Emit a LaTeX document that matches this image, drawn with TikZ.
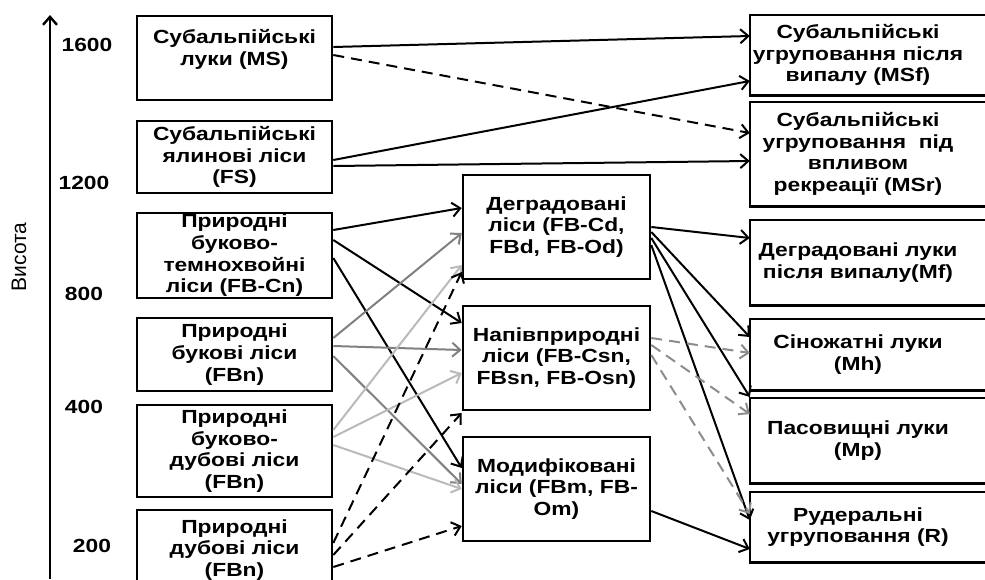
\documentclass[tikz,border=0pt]{standalone}
\usepackage{fontspec}
\setmainfont{Liberation Sans}[FakeStretch=1.2]
\newfontfamily\axisfont{Liberation Sans}
\usepackage{tikz}
\usetikzlibrary{arrows.meta}
\newcommand{\boxfont}{\fontsize{19}{21.7}\selectfont\bfseries}

\begin{document}
\begin{tikzpicture}[x=1pt, y=-1pt,
    box/.style={draw, line width=2.6pt, inner sep=0pt, align=center, font=\boxfont},
    lbox/.style={box, minimum width=195pt},
    mbox/.style={box, minimum width=187pt},
    rbox/.style={inner sep=0pt, align=center, font=\boxfont, minimum width=216pt},
    tick/.style={font=\boxfont},
    link/.style={line width=2pt, -{Straight Barb[length=8pt,width=14pt]}},
    dlink/.style={link, dash pattern=on 11pt off 7pt},
    glink/.style={link, color=black!50},
    llink/.style={link, color=black!27},
    gdlink/.style={dlink, color=black!45}]
          \useasboundingbox (0,0) rectangle (985,579);
          \clip (0,0) rectangle (985,579);

          \draw[line width=2.4pt, -{Straight Barb[length=8pt,width=14pt]}] (50,579) -- (50,15);
          \node[font=\axisfont\fontsize{21}{24}\selectfont, rotate=90] (vys) at (19,257) {Висота};
          \node[tick] (h1600) at (87,45) {1600};
          \node[tick] (h1200) at (84,183) {1200};
          \node[tick] (h800) at (84,294) {800};
          \node[tick] (h400) at (84,407) {400};
          \node[tick] (h200) at (92,546) {200};

          \node[lbox, minimum height=84pt] (ms) at (234.5,58) {Субальпійські\\луки (MS)\\~};
          \node[lbox, minimum height=72pt] (fs) at (234.5,157) {Субальпійські\\ялинові ліси\\(FS)};
          \node[lbox, minimum height=85pt] (fbcn) at (234.5,255.5) {Природні\\буково-\\темнохвойні\\ліси (FB-Cn)};
          \node[lbox, minimum height=73pt] (fbn) at (234.5,354.5) {Природні\\букові ліси\\(FBn)};
          \node[lbox, minimum height=92pt] (fbqn) at (234.5,451) {Природні\\буково-\\дубові ліси\\(FBn)};
          \node[lbox, minimum height=80pt] (fqn) at (234.5,550) {Природні\\дубові ліси\\(FBn)};

          \node[mbox, minimum height=104pt] (deg) at (556.5,227) {Деградовані\\ліси (FB-Cd,\\FBd, FB-Od)};
          \node[mbox, minimum height=104pt] (semi) at (556.5,358) {Напівприродні\\ліси (FB-Csn,\\FBsn, FB-Osn)};
          \node[mbox, minimum height=104pt] (mod) at (556.5,489) {Модифіковані\\ліси (FBm, FB-\\Om)};

          \node[rbox, minimum height=80pt] (msf) at (858,55) {Субальпійські\\угруповання після\\випалу (MSf)};
          \node[rbox, minimum height=104pt] (msr) at (858,154) {Субальпійські\\угруповання~~під\\впливом\\рекреації (MSr)};
          \node[rbox, minimum height=85pt] (mf) at (858,262.5) {Деградовані луки\\після випалу(Mf)};
          \node[rbox, minimum height=71pt] (mh) at (858,354.5) {Сіножатні луки\\(Mh)};
          \node[rbox, minimum height=85pt] (mp) at (858,440.5) {Пасовищні луки\\(Mp)};
          \node[rbox, minimum height=70pt] (rud) at (858,527) {Рудеральні\\угруповання (R)};
          \foreach \b in {msf,msr,mf,mh,mp,rud}
            \draw[line width=2.6pt] (\b.north west -| 1000,0) -- (\b.north west) -- (\b.south west) -- (\b.south west -| 1000,0);

          \draw[link] (ms.east |- 0,47) -- (msf.west |- 0,36);
          \draw[dlink] (ms.east |- 0,55) -- (msr.west |- 0,133);
          \draw[link] (fs.east |- 0,160) -- (msf.west |- 0,81);
          \draw[link] (fs.east |- 0,166) -- (msr.west |- 0,161);

          \draw[link] (fbcn.east |- 0,230) -- (deg.west |- 0,208);
          \draw[link] (fbcn.east |- 0,240) -- (semi.west |- 0,323);
          \draw[link] (fbcn.east |- 0,258) -- (mod.west |- 0,468);

          \draw[glink] (fbn.east |- 0,338) -- (deg.west |- 0,233);
          \draw[glink] (fbn.east |- 0,346) -- (semi.west |- 0,350);
          \draw[glink] (fbn.east |- 0,356) -- (mod.west |- 0,484);

          \draw[llink] (fbqn.east |- 0,430) -- (deg.west |- 0,265);
          \draw[llink] (fbqn.east |- 0,437) -- (semi.west |- 0,373);
          \draw[llink] (fbqn.east |- 0,445) -- (mod.west |- 0,489);

          \draw[dlink] (fqn.east |- 0,543) -- (deg.west |- 0,272);
          \draw[dlink] (fqn.east |- 0,555) -- (semi.west |- 0,413);
          \draw[dlink] (fqn.east |- 0,567) -- (mod.west |- 0,526);

          \draw[link] (deg.east |- 0,227) -- (mf.west |- 0,238);
          \draw[link] (deg.east |- 0,232) -- (mh.west |- 0,337);
          \draw[link] (deg.east |- 0,238) -- (mp.west |- 0,397);
          \draw[link] (deg.east |- 0,245) -- (rud.west |- 0,520);

          \draw[gdlink] (semi.east |- 0,338) -- (mh.west |- 0,353);
          \draw[gdlink] (semi.east |- 0,345) -- (mp.west |- 0,414);
          \draw[gdlink] (semi.east |- 0,355) -- (rud.west |- 0,514);

          \draw[link] (mod.east |- 0,511) -- (rud.west |- 0,549);
        \end{tikzpicture}
\end{document}
